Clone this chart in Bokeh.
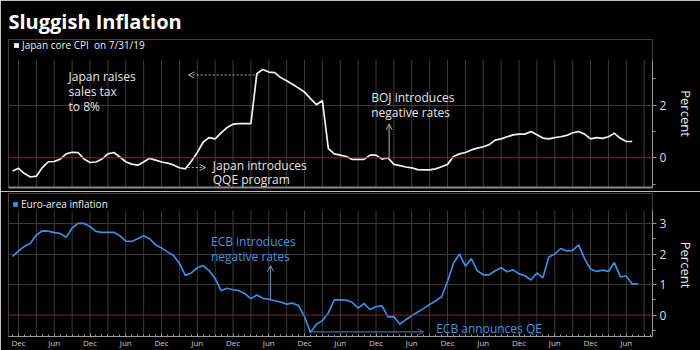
from bokeh.plotting import figure
from bokeh.layouts import column
from bokeh.models import (Range1d, FixedTicker, Span, Label, Arrow, OpenHead,
                          Legend, LegendItem)
from bokeh.embed import file_html
from bokeh.resources import INLINE

# x position = months since Dec 2010 (0 = Dec 2010)
japan_start = -1
japan_cpi = [-0.5, -0.4, -0.6, -0.73, -0.7, -0.37, -0.15, -0.14, -0.05, 0.15,
             0.21, 0.2, -0.05, -0.18, -0.16, -0.05, 0.15, 0.2, 0.03, -0.15,
             -0.24, -0.28, -0.16, -0.02, -0.09, -0.16, -0.2, -0.27, -0.38, -0.42,
             -0.13, 0.2, 0.6, 0.77, 0.72, 0.95, 1.15, 1.28, 1.3, 1.3,
             1.3, 3.2, 3.36, 3.26, 3.24, 3.05, 2.93, 2.8, 2.65, 2.5,
             2.25, 2.02, 2.18, 0.35, 0.15, 0.1, 0.05, -0.06, -0.06, -0.06,
             0.1, 0.1, -0.05, 0.0, -0.25, -0.3, -0.35, -0.38, -0.45, -0.46,
             -0.46, -0.42, -0.34, -0.25, 0.05, 0.15, 0.2, 0.3, 0.37, 0.42,
             0.5, 0.67, 0.72, 0.8, 0.87, 0.9, 0.9, 1.0, 0.88, 0.75,
             0.72, 0.77, 0.8, 0.85, 0.95, 1.0, 0.9, 0.72, 0.77, 0.74,
             0.8, 0.93, 0.74, 0.62, 0.62]

euro_start = -1
euro_inflation = [1.92, 2.1, 2.25, 2.35, 2.62, 2.76, 2.75, 2.7, 2.67, 2.55,
                  2.85, 3.0, 3.0, 2.9, 2.74, 2.71, 2.71, 2.71, 2.6, 2.42,
                  2.41, 2.5, 2.6, 2.5, 2.3, 2.2, 2.07, 1.95, 1.7, 1.3,
                  1.38, 1.55, 1.62, 1.45, 1.2, 0.8, 0.88, 0.83, 0.8, 0.7,
                  0.54, 0.66, 0.55, 0.52, 0.47, 0.43, 0.36, 0.39, 0.31, -0.05,
                  -0.57, -0.3, -0.18, 0.07, 0.5, 0.5, 0.49, 0.42, 0.23, 0.38,
                  0.18, 0.28, 0.3, -0.06, -0.05, -0.3, -0.15, -0.02, 0.1, 0.22,
                  0.35, 0.46, 0.6, 1.1, 1.7, 2.0, 1.6, 1.85, 1.45, 1.32,
                  1.32, 1.45, 1.55, 1.42, 1.48, 1.35, 1.29, 1.15, 1.38, 1.22,
                  1.9, 2.0, 2.18, 2.1, 2.12, 2.3, 1.85, 1.51, 1.43, 1.47,
                  1.43, 1.72, 1.25, 1.28, 1.02, 1.02]

tick_months = [0, 6, 12, 18, 24, 30, 36, 42, 48, 54, 60, 66, 72, 78, 84, 90, 96, 102]
tick_labels = ["Dec", "Jun"] * 9
grid_months = list(range(0, 106, 3))
all_months = list(range(-1, 107))

japan_x = list(range(japan_start, japan_start + len(japan_cpi)))
euro_x = list(range(euro_start, euro_start + len(euro_inflation)))

FONT = "Open Sans"
WHITE_TXT = "#e6e6e6"
BLUE = "#3b8ee2"
BLUE_TXT = "#4b93dc"
GRID = "#3a3a3a"
AXIS = "#9a9a9a"
RED = "#9e1830"


def base(height, xr, yr, ybounds, top, bottom):
    p = figure(width=700, height=height, x_range=xr, y_range=yr,
               y_axis_location="right", output_backend="svg",
               toolbar_location=None, min_border_left=8, min_border_right=48,
               min_border_top=top, min_border_bottom=bottom)
    p.background_fill_color = "black"
    p.border_fill_color = "black"
    p.outline_line_color = None
    p.xgrid.visible = False
    p.ygrid.grid_line_color = GRID
    # quarterly vertical grid lines, limited to the plotting band
    p.segment(x0=grid_months, x1=grid_months,
              y0=[ybounds[0]] * len(grid_months), y1=[ybounds[1]] * len(grid_months),
              line_color=GRID, line_width=1)
    ax = p.yaxis[0]
    ax.bounds = ybounds
    ax.axis_line_color = AXIS
    ax.major_tick_line_color = AXIS
    ax.minor_tick_line_color = AXIS
    ax.major_tick_in = 0
    ax.major_tick_out = 4
    ax.minor_tick_in = 0
    ax.minor_tick_out = 3
    ax.major_label_text_color = "#dddddd"
    ax.major_label_text_font_size = "12px"
    ax.major_label_text_font = FONT
    ax.major_label_standoff = 3
    ax.axis_label = "Percent"
    ax.axis_label_text_color = "#eeeeee"
    ax.axis_label_text_font_size = "13px"
    ax.axis_label_text_font = FONT
    ax.axis_label_text_font_style = "normal"
    ax.axis_label_standoff = 8
    p.add_layout(Span(location=0, dimension="width", line_color=RED, line_width=1))
    return p


def add_legend(p, label, color, location, margin, padding):
    dummy = p.quad(left=[-50], right=[-49], top=[0], bottom=[0], fill_color=color, line_color=None)
    leg = Legend(items=[LegendItem(label=label, renderers=[dummy])],
                 location=location, orientation="horizontal",
                 background_fill_alpha=0, border_line_alpha=0,
                 label_text_color="#eeeeee", label_text_font_size="10px",
                 label_text_font=FONT, glyph_width=6, glyph_height=6,
                 label_height=10, padding=padding, margin=margin, label_standoff=3, spacing=0)
    p.add_layout(leg)


def note(p, x, y, text, color):
    p.add_layout(Label(x=x, y=y, text=text, text_color=color, text_font=FONT,
                       text_font_size="12px", text_baseline="middle"))


# ---------- top panel: Japan ----------
p1 = base(191, Range1d(-1.68, 106.4), Range1d(-1.13, 4.5), (-1.13, 3.72), 36, 4)
p1.title.text = "Sluggish Inflation"
p1.title.text_font = FONT
p1.title.text_font_size = "20px"
p1.title.text_font_style = "bold"
p1.title.text_color = "white"
p1.title.align = "left"
add_legend(p1, "Japan core CPI  on 7/31/19", "white", (5, 135), 0, 0)
p1.yaxis.ticker = FixedTicker(ticks=[0, 2], minor_ticks=[-1, 1, 3])
p1.ygrid.ticker = FixedTicker(ticks=[2])
xa = p1.xaxis[0]
xa.ticker = FixedTicker(ticks=[])
xa.major_label_text_color = None
xa.axis_line_color = "#8a8a8a"
xa.axis_line_width = 2
xa.major_tick_line_color = None
xa.minor_tick_line_color = None

p1.line(japan_x, japan_cpi, line_color="#f2f2f2", line_width=1.7)

note(p1, 8.4, 3.09, "Japan raises", WHITE_TXT)
note(p1, 8.4, 2.53, "sales tax", WHITE_TXT)
note(p1, 8.4, 1.95, "to 8%", WHITE_TXT)
note(p1, 32.6, -0.31, "Japan introduces", WHITE_TXT)
note(p1, 32.6, -0.81, "QQE program", WHITE_TXT)
note(p1, 59.2, 2.30, "BOJ introduces", WHITE_TXT)
note(p1, 59.2, 1.74, "negative rates", WHITE_TXT)
gray = "#b0b0b0"
p1.add_layout(Arrow(end=OpenHead(size=6, line_color=gray, line_width=1),
                    x_start=40.3, y_start=3.15, x_end=28.5, y_end=3.15,
                    line_color=gray, line_width=1, line_dash="2 2"))
p1.add_layout(Arrow(end=OpenHead(size=6, line_color=gray, line_width=1),
                    x_start=28.4, y_start=-0.37, x_end=31.4, y_end=-0.37,
                    line_color=gray, line_width=1, line_dash="2 2"))
p1.add_layout(Arrow(end=OpenHead(size=6, line_color=gray, line_width=1),
                    x_start=62.2, y_start=0.0, x_end=62.2, y_end=1.29,
                    line_color=gray, line_width=1))

# ---------- bottom panel: Euro area ----------
p2 = base(159, p1.x_range, Range1d(-0.7, 3.98), (-0.94, 3.42), 2, 0)
p2.title.visible = False
add_legend(p2, "Euro-area inflation", BLUE, "top_left", 2, 2)
p2.yaxis.ticker = FixedTicker(ticks=[0, 1, 2, 3], minor_ticks=[-0.5, 0.5, 1.5, 2.5])
p2.ygrid.ticker = FixedTicker(ticks=[1, 2, 3])
xb = p2.xaxis[0]
xb.ticker = FixedTicker(ticks=tick_months, minor_ticks=all_months)
xb.major_label_overrides = {m: lab for m, lab in zip(tick_months, tick_labels)}
xb.major_label_text_font_size = "8px"
xb.major_label_text_font = FONT
xb.major_label_text_color = "#cccccc"
xb.major_label_standoff = 0
xb.axis_label_standoff = 0
xb.axis_line_color = AXIS
xb.major_tick_line_color = AXIS
xb.minor_tick_line_color = AXIS
xb.major_tick_in = 3
xb.major_tick_out = 0
xb.minor_tick_in = 2
xb.minor_tick_out = 0

p2.line(euro_x, euro_inflation, line_color=BLUE, line_width=1.7)

note(p2, 32.3, 2.40, "ECB introduces", BLUE_TXT)
note(p2, 32.3, 1.93, "negative rates", BLUE_TXT)
note(p2, 70.1, -0.45, "ECB announces QE", BLUE_TXT)
p2.add_layout(Arrow(end=OpenHead(size=6, line_color="#6d8fb5", line_width=1),
                    x_start=42.3, y_start=0.53, x_end=42.3, y_end=1.62,
                    line_color="#6d8fb5", line_width=1))
p2.add_layout(Arrow(end=OpenHead(size=6, line_color="#3f6a98", line_width=1),
                    x_start=49.3, y_start=-0.55, x_end=68.0, y_end=-0.55,
                    line_color="#3f6a98", line_width=1.2))

layout = column(p1, p2, spacing=0)
open("out.html", "w").write(file_html(layout, INLINE))
